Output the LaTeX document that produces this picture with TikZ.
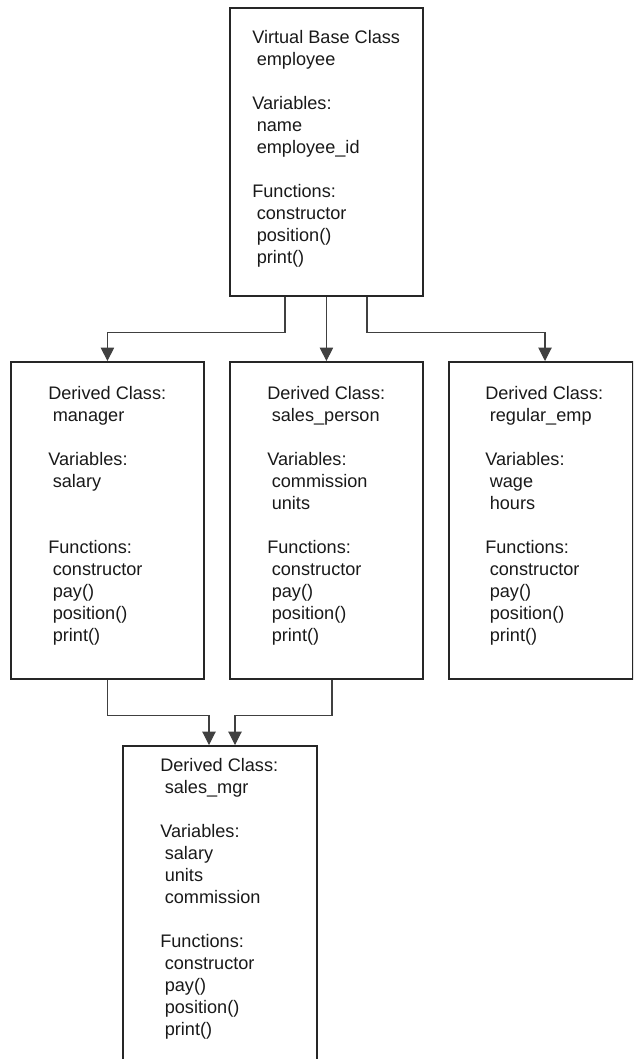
\documentclass[tikz,border=0pt]{standalone}
\usepackage{fontspec}
\setmainfont{Liberation Sans}
\usetikzlibrary{arrows.meta,calc}
\newcommand\itemind{\hspace*{0.25em}}
\begin{document}
\begin{tikzpicture}[x=0.75pt,y=-0.75pt,
  classbox/.style={draw=black!85, line width=1.4pt, rectangle, inner sep=0pt, anchor=north west},
  classtext/.style={anchor=north west, inner sep=0pt, align=left, text=black!90,
    font=\fontsize{13.6}{16.5}\selectfont},
  link/.style={draw=black!75, line width=0.8pt},
  tip/.style={-{Triangle[width=10pt,length=10pt]}}]
\clip (0,0) rectangle (633,1059);

% class boxes
\node[classbox, minimum width=144.75pt, minimum height=216pt]    (base) at (229,7)   {};
\node[classbox, minimum width=144.75pt, minimum height=237.75pt] (mgr)  at (10,361)  {};
\node[classbox, minimum width=144.75pt, minimum height=237.75pt] (sp)   at (229,361) {};
\node[classbox, minimum width=138pt,    minimum height=237.75pt] (reg)  at (448,361) {};
\node[classbox, minimum width=145.5pt,  minimum height=270pt]    (smgr) at (122,745) {};

% class contents
\node[classtext] (basetext) at (252,30) {Virtual Base Class\\ \itemind employee\\[16.5pt]
  Variables:\\ \itemind name\\ \itemind employee\_id\\[16.5pt]
  Functions:\\ \itemind constructor\\ \itemind position()\\ \itemind print()};
\node[classtext] (mgrtext) at (48,386) {Derived Class:\\ \itemind manager\\[16.5pt]
  Variables:\\ \itemind salary\\[33pt]
  Functions:\\ \itemind constructor\\ \itemind pay()\\ \itemind position()\\ \itemind print()};
\node[classtext] (sptext) at (267,386) {Derived Class:\\ \itemind sales\_person\\[16.5pt]
  Variables:\\ \itemind commission\\ \itemind units\\[16.5pt]
  Functions:\\ \itemind constructor\\ \itemind pay()\\ \itemind position()\\ \itemind print()};
\node[classtext] (regtext) at (485,386) {Derived Class:\\ \itemind regular\_emp\\[16.5pt]
  Variables:\\ \itemind wage\\ \itemind hours\\[16.5pt]
  Functions:\\ \itemind constructor\\ \itemind pay()\\ \itemind position()\\ \itemind print()};
\node[classtext] (smgrtext) at (160,758) {Derived Class:\\ \itemind sales\_mgr\\[16.5pt]
  Variables:\\ \itemind salary\\ \itemind units\\ \itemind commission\\[16.5pt]
  Functions:\\ \itemind constructor\\ \itemind pay()\\ \itemind position()\\ \itemind print()};

% inheritance links
\draw[link,tip] ($(base.south west)+(56,0)$) -- ++(0,36) -| (mgr.north);
\draw[link,tip] (base.south) -- (sp.north);
\draw[link,tip] ($(base.south west)+(138,0)$) -- ++(0,36) -| ($(reg.north west)+(97,0)$);
\draw[link,tip] (mgr.south) -- ++(0,36) -| ($(smgr.north west)+(87,0)$);
\draw[link,tip] ($(sp.south west)+(103,0)$) -- ++(0,36) -| ($(smgr.north west)+(113,0)$);
\end{tikzpicture}
\end{document}
